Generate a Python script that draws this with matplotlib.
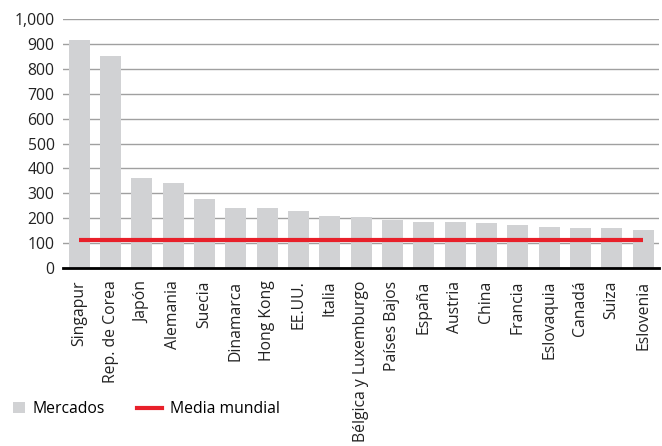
import matplotlib
matplotlib.use("Agg")
import matplotlib.pyplot as plt
from matplotlib.patches import Patch
from matplotlib.lines import Line2D

plt.rcParams['font.family'] = ['Open Sans', 'DejaVu Sans']

categories = ["Singapur", "Rep. de Corea", "Japón", "Alemania", "Suecia", "Dinamarca",
              "Hong Kong", "EE.UU.", "Italia", "Bélgica y Luxemburgo", "Países Bajos",
              "España", "Austria", "China", "Francia", "Eslovaquia", "Canadá", "Suiza",
              "Eslovenia"]
mercados = [916, 853, 363, 343, 276, 240, 240, 228, 210, 206, 193, 186, 186, 182, 174,
            166, 162, 162, 154]
media_mundial = 111
yticks = [0, 100, 200, 300, 400, 500, 600, 700, 800, 900, 1000]
ytick_labels = ["0", "100", "200", "300", "400", "500", "600", "700", "800", "900", "1,000"]

FS = 11.3
fig = plt.figure(figsize=(6.62, 4.46), dpi=100)
ax = fig.add_axes([0.095, 0.399, 0.900, 0.558])

x = list(range(len(categories)))
ax.bar(x, mercados, width=0.67, color="#d1d2d4", zorder=2)
ax.plot([x[0], x[-1]], [media_mundial, media_mundial], color="#e8202a", lw=3, zorder=3,
        solid_capstyle="butt")

ax.set_xlim(-0.52, len(categories) - 0.5)
ax.set_ylim(0, 1000)
ax.set_yticks(yticks)
ax.set_yticklabels(ytick_labels, fontsize=FS, color="#222222")
ax.yaxis.grid(True, color="#a0a0a0", lw=1)
ax.set_axisbelow(True)
ax.set_xticks(x)
ax.set_xticklabels(categories, rotation=90, fontsize=FS, color="#222222")
ax.tick_params(axis="both", length=0)
ax.tick_params(axis="y", pad=6)
ax.tick_params(axis="x", pad=9)
for s in ["top", "right", "left"]:
    ax.spines[s].set_visible(False)
ax.spines["bottom"].set_color("black")
ax.spines["bottom"].set_linewidth(2)
ax.spines["bottom"].set_zorder(4)

em = FS * 100 / 72.0
yleg = 1 - 409 / 446
leg1 = fig.legend(handles=[Patch(facecolor="#d1d2d4", edgecolor="none", label="Mercados")],
                  loc="center left", bbox_to_anchor=(13 / 662, yleg), frameon=False,
                  fontsize=FS, handlelength=12 / em, handleheight=12 / em,
                  handletextpad=7 / em, borderpad=0, borderaxespad=0)
leg2 = fig.legend(handles=[Line2D([0], [0], color="#e8202a", lw=3, label="Media mundial")],
                  loc="center left", bbox_to_anchor=(137 / 662, yleg), frameon=False,
                  fontsize=FS, handlelength=25 / em, handletextpad=8 / em,
                  borderpad=0, borderaxespad=0)

fig.savefig("out.png", dpi=100)
